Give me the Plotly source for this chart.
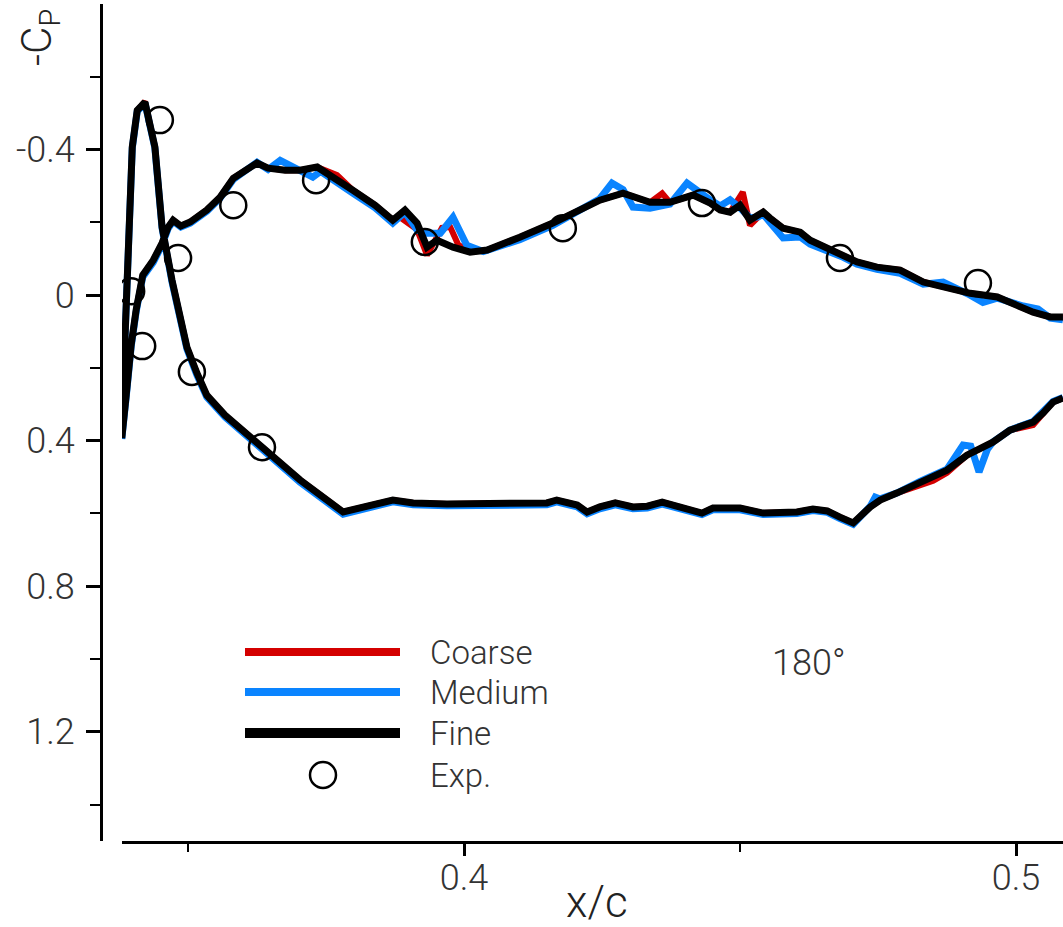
import plotly.graph_objects as go

# ---- Surface pressure data (x/c, Cp) ----
# Each grid curve runs from the trailing end of the upper branch, round the
# leading edge, and back out along the lower branch.
fine_x = [0.5085, 0.5062, 0.5031, 0.4995, 0.4966, 0.4917, 0.4868, 0.4832, 0.4790, 0.4748,
          0.4712, 0.4687, 0.4663, 0.4627, 0.4609, 0.4578, 0.4554, 0.4542, 0.4533, 0.4518,
          0.4500, 0.4482, 0.4464, 0.4446, 0.4415, 0.4373, 0.4337, 0.4306, 0.4288, 0.4246,
          0.4161, 0.4101, 0.4042, 0.4011, 0.3980, 0.3951, 0.3933, 0.3915, 0.3893, 0.3871,
          0.3839, 0.3799, 0.3763, 0.3734, 0.3703, 0.3676, 0.3645, 0.3625, 0.3582, 0.3558,
          0.3534, 0.3504, 0.3487, 0.3473, 0.3464, 0.3453, 0.3437, 0.3418, 0.3406, 0.3397,
          0.3388, 0.3380,
          0.3382, 0.3389, 0.3395, 0.3399, 0.3408, 0.3422, 0.3440, 0.3453, 0.3471, 0.3498,
          0.3516, 0.3534, 0.3567, 0.3603, 0.3634, 0.3703, 0.3781, 0.3830, 0.3871, 0.3908,
          0.3969, 0.4150, 0.4168, 0.4205, 0.4223, 0.4246, 0.4274, 0.4306, 0.4332, 0.4359,
          0.4391, 0.4431, 0.4451, 0.4500, 0.4542, 0.4603, 0.4632, 0.4658, 0.4681, 0.4705,
          0.4736, 0.4754, 0.4784, 0.4826, 0.4875, 0.4911, 0.4958, 0.4989, 0.5031, 0.5049,
          0.5067, 0.5085]
fine_cp = [0.060, 0.060, 0.047, 0.022, 0.005, -0.005, -0.022, -0.036, -0.069, -0.077,
           -0.091, -0.110, -0.124, -0.151, -0.173, -0.184, -0.212, -0.228, -0.220, -0.206,
           -0.247, -0.228, -0.234, -0.253, -0.275, -0.255, -0.255, -0.269, -0.280, -0.261,
           -0.198, -0.159, -0.124, -0.118, -0.132, -0.151, -0.132, -0.198, -0.234, -0.206,
           -0.247, -0.288, -0.324, -0.352, -0.343, -0.343, -0.349, -0.363, -0.321, -0.269,
           -0.234, -0.201, -0.190, -0.206, -0.187, -0.143, -0.096, -0.055, 0.041, 0.137,
           0.275, 0.393,
           0.269, 0.014, -0.261, -0.407, -0.508, -0.530, -0.407, -0.187, -0.041, 0.143,
           0.214, 0.275, 0.330, 0.376, 0.420, 0.508, 0.596, 0.580, 0.563, 0.571,
           0.574, 0.571, 0.563, 0.577, 0.596, 0.582, 0.571, 0.582, 0.580, 0.569,
           0.582, 0.599, 0.585, 0.585, 0.599, 0.596, 0.588, 0.593, 0.610, 0.626,
           0.582, 0.563, 0.544, 0.514, 0.481, 0.440, 0.404, 0.371, 0.349, 0.324,
           0.294, 0.283]

medium_x = [0.5085, 0.5062, 0.5040, 0.5013, 0.4966, 0.4940, 0.4917, 0.4868, 0.4832, 0.4790,
            0.4748, 0.4712, 0.4687, 0.4663, 0.4627, 0.4609, 0.4578, 0.4554, 0.4542, 0.4533,
            0.4518, 0.4500, 0.4482, 0.4464, 0.4446, 0.4404, 0.4373, 0.4337, 0.4306, 0.4288,
            0.4268, 0.4246, 0.4161, 0.4101, 0.4035, 0.4005, 0.3980, 0.3957, 0.3933, 0.3915,
            0.3893, 0.3871, 0.3839, 0.3799, 0.3763, 0.3740, 0.3726, 0.3703, 0.3667, 0.3645,
            0.3625, 0.3582, 0.3558, 0.3534, 0.3504, 0.3487, 0.3473, 0.3464, 0.3453, 0.3437,
            0.3418, 0.3406, 0.3397, 0.3388, 0.3380,
            0.3382, 0.3389, 0.3395, 0.3399, 0.3408, 0.3422, 0.3440, 0.3453, 0.3471, 0.3498,
            0.3516, 0.3534, 0.3567, 0.3603, 0.3634, 0.3703, 0.3781, 0.3830, 0.3871, 0.3908,
            0.3969, 0.4150, 0.4168, 0.4205, 0.4223, 0.4246, 0.4274, 0.4306, 0.4332, 0.4359,
            0.4391, 0.4431, 0.4451, 0.4500, 0.4542, 0.4603, 0.4632, 0.4658, 0.4681, 0.4705,
            0.4736, 0.4745, 0.4754, 0.4784, 0.4826, 0.4875, 0.4904, 0.4918, 0.4933, 0.4948,
            0.4958, 0.4989, 0.5031, 0.5049, 0.5067, 0.5085]
medium_cp = [0.068, 0.063, 0.038, 0.030, 0.008, 0.020, 0.000, -0.036, -0.030, -0.060,
             -0.071, -0.085, -0.104, -0.118, -0.140, -0.160, -0.157, -0.200, -0.222, -0.215,
             -0.212, -0.240, -0.262, -0.245, -0.262, -0.308, -0.250, -0.239, -0.242, -0.290,
             -0.308, -0.265, -0.192, -0.152, -0.120, -0.137, -0.214, -0.170, -0.170, -0.179,
             -0.228, -0.198, -0.240, -0.280, -0.318, -0.340, -0.324, -0.340, -0.370, -0.345,
             -0.365, -0.318, -0.266, -0.230, -0.198, -0.187, -0.203, -0.183, -0.138, -0.090,
             -0.050, 0.046, 0.142, 0.280, 0.395,
             0.272, 0.016, -0.258, -0.404, -0.505, -0.528, -0.404, -0.184, -0.036, 0.148,
             0.219, 0.280, 0.335, 0.382, 0.426, 0.514, 0.602, 0.585, 0.568, 0.576,
             0.579, 0.576, 0.568, 0.582, 0.601, 0.587, 0.576, 0.587, 0.585, 0.574,
             0.587, 0.603, 0.590, 0.590, 0.603, 0.600, 0.592, 0.597, 0.614, 0.630,
             0.580, 0.555, 0.560, 0.544, 0.512, 0.478, 0.412, 0.415, 0.486, 0.424,
             0.404, 0.371, 0.347, 0.322, 0.292, 0.281]

coarse_x = [0.5085, 0.5062, 0.5031, 0.4995, 0.4966, 0.4917, 0.4868, 0.4832, 0.4790, 0.4748,
            0.4712, 0.4687, 0.4663, 0.4627, 0.4609, 0.4578, 0.4554, 0.4542, 0.4518, 0.4505,
            0.4482, 0.4464, 0.4446, 0.4415, 0.4373, 0.4359, 0.4337, 0.4306, 0.4288, 0.4246,
            0.4161, 0.4101, 0.4042, 0.4011, 0.3990, 0.3975, 0.3960, 0.3933, 0.3915, 0.3884,
            0.3871, 0.3839, 0.3799, 0.3770, 0.3734, 0.3703, 0.3676, 0.3645, 0.3625, 0.3582,
            0.3558, 0.3534, 0.3504, 0.3487, 0.3473, 0.3464, 0.3453, 0.3437, 0.3418, 0.3406,
            0.3397, 0.3388, 0.3380,
            0.3382, 0.3389, 0.3395, 0.3399, 0.3408, 0.3422, 0.3440, 0.3453, 0.3471, 0.3498,
            0.3516, 0.3534, 0.3567, 0.3603, 0.3634, 0.3703, 0.3781, 0.3830, 0.3871, 0.3908,
            0.3969, 0.4150, 0.4168, 0.4205, 0.4223, 0.4246, 0.4274, 0.4306, 0.4332, 0.4359,
            0.4391, 0.4431, 0.4451, 0.4500, 0.4542, 0.4603, 0.4632, 0.4658, 0.4681, 0.4705,
            0.4736, 0.4754, 0.4784, 0.4826, 0.4850, 0.4875, 0.4911, 0.4958, 0.4989, 0.5031,
            0.5049, 0.5067, 0.5085]
coarse_cp = [0.062, 0.060, 0.047, 0.022, 0.005, -0.005, -0.022, -0.036, -0.069, -0.077,
             -0.091, -0.110, -0.124, -0.151, -0.173, -0.184, -0.212, -0.228, -0.192, -0.283,
             -0.228, -0.234, -0.253, -0.275, -0.255, -0.280, -0.255, -0.269, -0.280, -0.261,
             -0.198, -0.159, -0.124, -0.125, -0.137, -0.187, -0.185, -0.110, -0.180, -0.214,
             -0.206, -0.247, -0.288, -0.330, -0.352, -0.343, -0.343, -0.349, -0.363, -0.321,
             -0.269, -0.234, -0.201, -0.190, -0.206, -0.187, -0.143, -0.096, -0.055, 0.041,
             0.137, 0.275, 0.393,
             0.269, 0.014, -0.261, -0.407, -0.508, -0.532, -0.407, -0.187, -0.041, 0.143,
             0.214, 0.275, 0.330, 0.376, 0.420, 0.508, 0.596, 0.580, 0.563, 0.571,
             0.574, 0.571, 0.563, 0.577, 0.596, 0.582, 0.571, 0.582, 0.580, 0.569,
             0.582, 0.599, 0.585, 0.585, 0.599, 0.596, 0.588, 0.593, 0.610, 0.626,
             0.582, 0.563, 0.544, 0.522, 0.510, 0.488, 0.440, 0.404, 0.371, 0.357,
             0.324, 0.294, 0.283]

exp_x = [0.3397, 0.3417, 0.3449, 0.3482, 0.3507, 0.3582, 0.3634, 0.3732, 0.3929,
         0.4179, 0.4431, 0.4681, 0.4931]
exp_cp = [-0.011, 0.140, -0.481, -0.102, 0.211, -0.247, 0.418, -0.316, -0.146,
          -0.184, -0.253, -0.102, -0.033]

series_names = ["Coarse", "Medium", "Fine"]
series_colors = ["#d40000", "#0a84ff", "#000000"]
series_widths = [6, 7, 7]

x_ticks = [0.4, 0.5]
x_tick_text = ["0.4", "0.5"]
x_minor = [0.35, 0.45]
y_ticks = [-0.4, 0.0, 0.4, 0.8, 1.2]
y_tick_text = ["-0.4", "0", "0.4", "0.8", "1.2"]
y_minor = [-0.6, -0.2, 0.2, 0.6, 1.0, 1.4]

fig = go.Figure()
curves = [(coarse_x, coarse_cp), (medium_x, medium_cp), (fine_x, fine_cp)]
for (xs, ys), name, color, width in zip(curves, series_names, series_colors, series_widths):
    fig.add_trace(go.Scatter(x=xs, y=ys, mode="lines", name=name,
                             line=dict(color=color, width=width),
                             showlegend=False))
fig.add_trace(go.Scatter(x=exp_x, y=exp_cp, mode="markers", name="Exp.",
                         marker=dict(symbol="circle-open", size=26, color="black",
                                     line=dict(width=2.5, color="black")),
                         showlegend=False))

W, H = 1063, 927
L, R, T, B = 101, 0, 4, 86
PW, PH = W - L - R, H - T - B

def px(xp):
    return (xp - L) / PW

def py(yp):
    return (H - B - yp) / PH

tick_font = dict(family="Roboto", size=36, color="#333333", weight=300)

fig.update_layout(
    width=W, height=H,
    margin=dict(l=L, r=R, t=T, b=B),
    plot_bgcolor="white", paper_bgcolor="white",
    showlegend=False,
    xaxis=dict(domain=[px(122), 1], range=[0.33804, 0.50851],
               tickvals=x_ticks, ticktext=x_tick_text,
               ticks="outside", ticklen=12, tickwidth=3, tickcolor="black",
               showline=True, linewidth=3, linecolor="black",
               showgrid=False, zeroline=False, tickfont=tick_font,
               ticklabelstandoff=-9,
               minor=dict(tickvals=x_minor, ticks="outside", ticklen=8,
                          tickwidth=1.5, tickcolor="black", showgrid=False)),
    yaxis=dict(range=[1.5, -0.8], anchor="free", position=0,
               tickvals=y_ticks, ticktext=y_tick_text,
               ticks="outside", ticklen=14, tickwidth=3, tickcolor="black",
               showline=True, linewidth=3, linecolor="black",
               showgrid=False, zeroline=False, tickfont=tick_font,
               ticklabelstandoff=4,
               minor=dict(tickvals=y_minor, ticks="outside", ticklen=10,
                          tickwidth=1.5, tickcolor="black", showgrid=False)),
)

label_font = dict(family="Roboto", size=33, color="#333333", weight=300)

def note(text, xp, yp, font, xanchor="center", angle=0):
    fig.add_annotation(text=text, xref="paper", yref="paper", x=px(xp), y=py(yp),
                       xanchor=xanchor, yanchor="middle", textangle=angle,
                       showarrow=False, font=font)

# axis titles
note("x/c", 597, 902, dict(family="Roboto", size=44, color="#222222", weight=300))
note("-C<sub>P</sub>", 40, 38, dict(family="Roboto", size=42, color="#222222", weight=300),
     angle=-90)

# legend drawn as line samples with labels
legend_rows = [652, 692, 733]
legend_widths = [8, 8, 10]
for yrow, name, color, lw in zip(legend_rows, series_names, series_colors, legend_widths):
    fig.add_shape(type="line", xref="paper", yref="paper",
                  x0=px(245), x1=px(400), y0=py(yrow), y1=py(yrow),
                  line=dict(color=color, width=lw))
    note(name, 428, yrow, label_font, xanchor="left")
fig.add_shape(type="circle", xref="paper", yref="paper",
              xsizemode="pixel", ysizemode="pixel",
              xanchor=px(323), yanchor=py(775), x0=-13, x1=13, y0=-13, y1=13,
              line=dict(color="black", width=2.5))
note("Exp.", 428, 775, label_font, xanchor="left")

note("180°", 809, 663, dict(family="Roboto", size=36, color="#333333", weight=300))

fig.write_html("out.html")
